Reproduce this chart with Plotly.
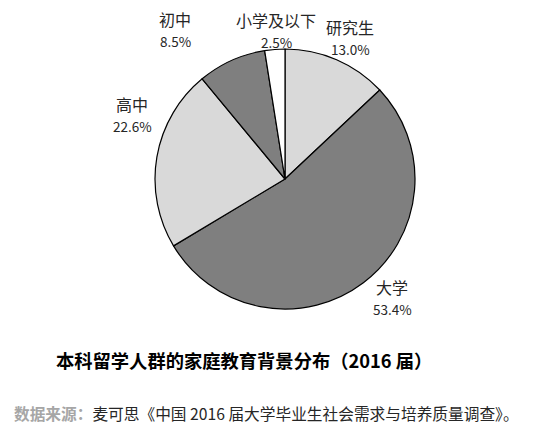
import plotly.graph_objects as go

# 家庭教育背景 (clockwise from 12 o'clock)
labels = ["研究生", "大学", "高中", "初中", "小学及以下"]
values = [13.0, 53.4, 22.6, 8.5, 2.5]
colors = ["#d9d9d9", "#7f7f7f", "#d9d9d9", "#7f7f7f", "#ffffff"]

title_text = "本科留学人群的家庭教育背景分布（2016 届）"
source_head = "数据来源："
source_body = "麦可思《中国 2016 届大学毕业生社会需求与培养质量调查》。"

# page body has an 8px margin, so the figure is a bit smaller and offset
OFF = 8
W, H = 550 - OFF, 443 - OFF


def px(x):
    return (x - OFF) / W


def py(y):
    return 1 - (y - OFF) / H


# label positions in window pixels (name line centre x, y)
label_pos = [(350, 27), (392, 287), (132, 104), (175, 19), (276, 20)]

font = "Noto Sans CJK SC"

fig = go.Figure(go.Pie(
    labels=labels,
    values=values,
    sort=False,
    direction="clockwise",
    rotation=0,
    marker=dict(colors=colors, line=dict(color="#000000", width=1.2)),
    textinfo="none",
    hoverinfo="label+percent",
    showlegend=False,
    domain=dict(x=[px(155), px(415)], y=[py(309), py(49)]),
))

ann = []
for name, v, (lx, ly) in zip(labels, values, label_pos):
    ann.append(dict(x=px(lx), y=py(ly), xref="paper", yref="paper",
                    xanchor="center", yanchor="middle",
                    text=name, showarrow=False,
                    font=dict(family=font, size=16, color="#262626")))
    ann.append(dict(x=px(lx), y=py(ly + 22), xref="paper", yref="paper",
                    xanchor="center", yanchor="middle",
                    text=f"{v:.1f}%", showarrow=False,
                    font=dict(family=font, size=13.5, color="#262626")))

ann.append(dict(x=px(244), y=py(360), xref="paper", yref="paper",
                xanchor="center", yanchor="middle",
                text=f"<b>{title_text}</b>", showarrow=False,
                font=dict(family=font, size=18.3, color="#000000")))
ann.append(dict(x=px(12), y=py(413), xref="paper", yref="paper",
                xanchor="left", yanchor="middle",
                text=f"<b><span style='color:#a6a6a6'>{source_head}</span></b>{source_body}",
                showarrow=False,
                font=dict(family=font, size=15.7, color="#262626")))

fig.update_layout(
    width=W, height=H,
    margin=dict(l=0, r=0, t=0, b=0),
    paper_bgcolor="white",
    plot_bgcolor="white",
    annotations=ann,
)

fig.write_html("out.html")
